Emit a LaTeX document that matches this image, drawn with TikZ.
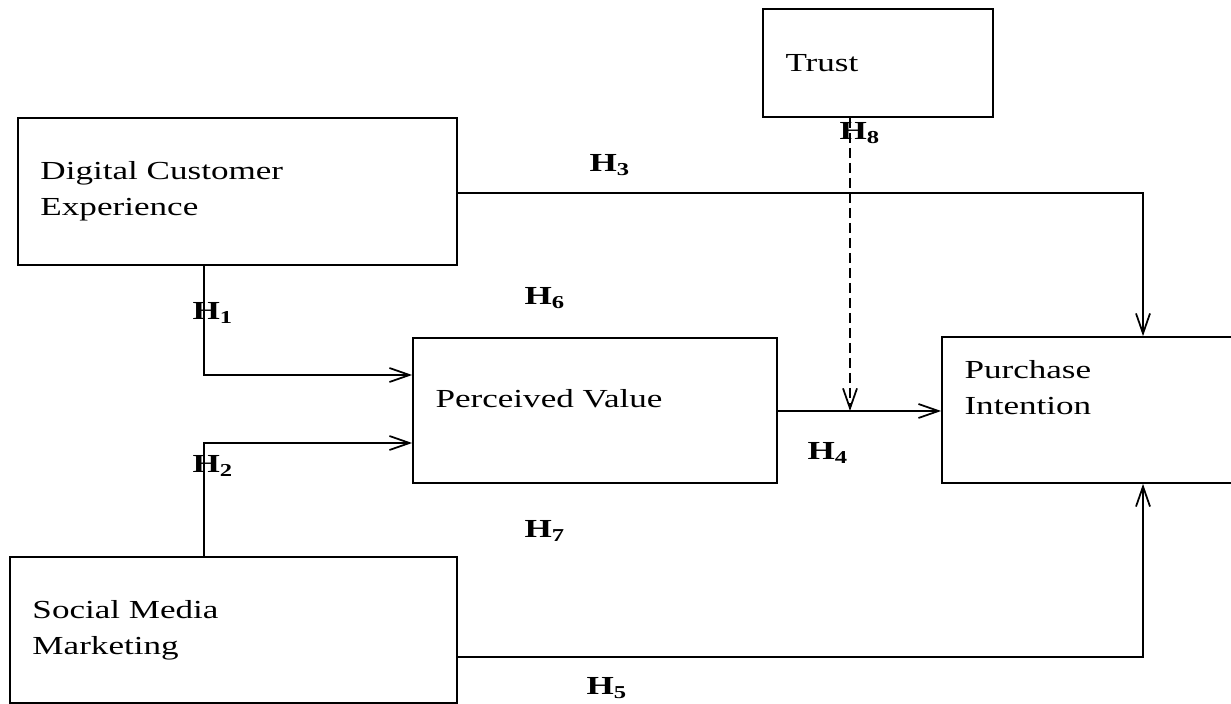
\documentclass[tikz,border=0pt]{standalone}
\usepackage{fontspec}
\setmainfont{Liberation Serif}[FakeStretch=1.35]
\usepackage{tikz}
\usetikzlibrary{arrows.meta}

\tikzset{
block/.style={draw, line width=0.7pt, align=left, inner xsep=9pt, inner ysep=0pt},
hlab/.style={font=\fontsize{10.4}{14.4}\selectfont\bfseries, inner sep=0pt},
link/.style={->, line width=0.7pt}
}

\begin{document}
\begin{tikzpicture}[x=0.4pt, y=-0.4pt, >={Straight Barb[length=8pt,width=5.6pt]}, font=\fontsize{10.4}{14.4}\selectfont]
\useasboundingbox (0,0) rectangle (1231,704);
\node[block, text width=74pt, minimum height=43.2pt] (trust) at (878,63) {Trust};
\node[block, text width=157.6pt, minimum height=58.8pt] (dce) at (237.5,191.5) {Digital Customer\\Experience};
\node[block, text width=127.6pt, minimum height=58pt] (pv) at (595,410.5) {Perceived Value\\[-5pt]\mbox{}};
\node[block, text width=105.2pt, minimum height=58.4pt] (pi) at (1096,410) {Purchase\\Intention\\[4pt]\mbox{}};
\node[block, text width=160.8pt, minimum height=58.4pt] (smm) at (233.5,630) {Social Media\\Marketing};

\coordinate (pij) at (1143,0);
\coordinate (lv) at (204,0);
\coordinate (tx) at ([xshift=-11.2pt]trust.south);
\coordinate (pvo) at ([yshift=-0.2pt]pv.east);

\draw[link] ([yshift=-0.6pt]dce.east) -| (pij |- pi.north);
\draw[link] (lv |- dce.south) |- ([yshift=14.2pt]pv.west);
\draw[link] (lv |- smm.north) |- ([yshift=-13pt]pv.west);
\draw[link] ([yshift=-10.8pt]smm.east) -| (pij |- pi.south);
\draw[link] (pvo) -- (pi.west |- pvo);
\draw[link, dash pattern=on 4pt off 2pt] (tx) -- (tx |- pvo);

\node[hlab] (h1) at (213,313) {H\textsubscript{1}};
\node[hlab] (h2) at (213,466) {H\textsubscript{2}};
\node[hlab] (h3) at (610,165) {H\textsubscript{3}};
\node[hlab] (h4) at (828,453) {H\textsubscript{4}};
\node[hlab] (h5) at (607,688) {H\textsubscript{5}};
\node[hlab] (h6) at (545,298) {H\textsubscript{6}};
\node[hlab] (h7) at (545,531) {H\textsubscript{7}};
\node[hlab] (h8) at (860,133) {H\textsubscript{8}};
\end{tikzpicture}
\end{document}
